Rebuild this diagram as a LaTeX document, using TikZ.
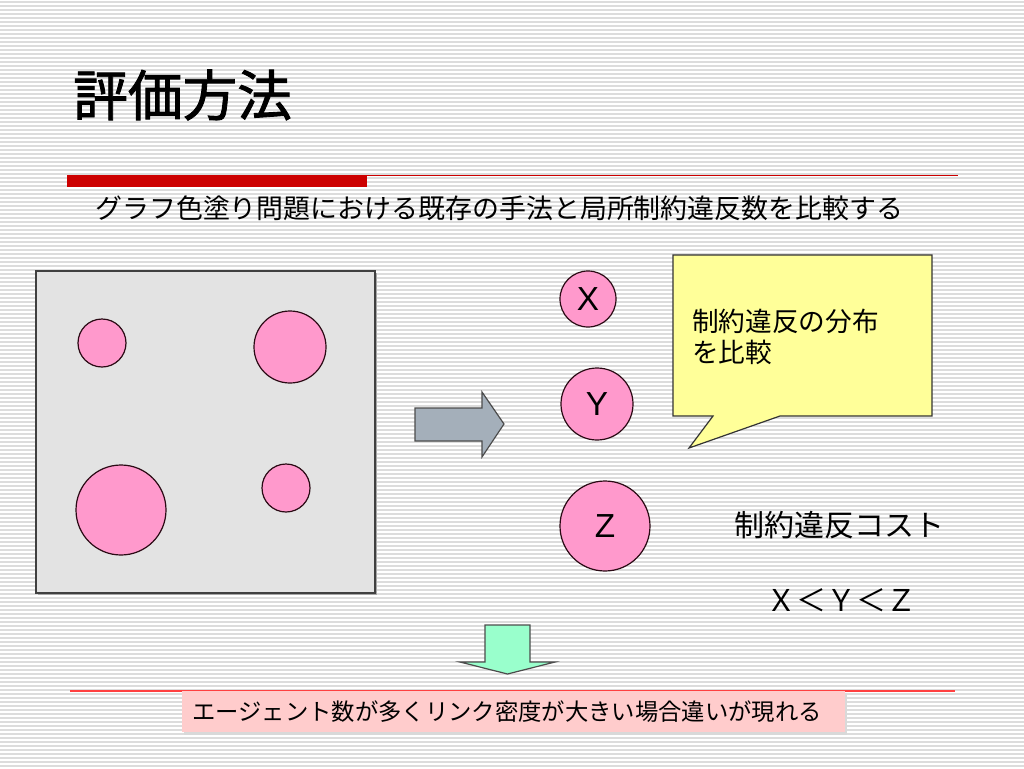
\documentclass[tikz,border=0pt]{standalone}
\usepackage{fontspec}
\setmainfont{Noto Sans CJK JP}
\newfontfamily\lat{Liberation Sans}
\newfontfamily\titlefont[FakeBold=1.6]{Noto Sans CJK JP}
\definecolor{stripe}{HTML}{DCDCDC}
\definecolor{barred}{HTML}{CC0000}
\definecolor{panel}{HTML}{E3E3E3}
\definecolor{pinkc}{HTML}{FF99CC}
\definecolor{edgec}{HTML}{2A0A14}
\definecolor{arrowgray}{HTML}{A4AFBA}
\definecolor{calloutc}{HTML}{FFFF99}
\definecolor{greenarr}{HTML}{99FFCC}
\definecolor{notec}{HTML}{FFCCCC}
\tikzset{
  dot/.style={circle, fill=pinkc, draw=edgec, line width=0.9pt, inner sep=0pt},
  lettr/.style={font=\lat\fontsize{25}{25}\selectfont},
  jtext/.style={inner sep=0pt, anchor=west},
}
\begin{document}
\begin{tikzpicture}[x=0.75pt, y=-0.75pt]
\useasboundingbox (0,0) rectangle (1024,768);
\fill[white] (0,0) rectangle (1024,768);
\foreach \i in {0,...,191} \fill[stripe] (0,\i*4+1) rectangle (1024,\i*4+2.6);

% title
\node[jtext, font=\titlefont\fontsize{41}{41}\selectfont] (title) at (73,95) {評価方法};
\fill[barred] (67,175) rectangle (367,187);
\draw[barred, line width=0.9pt] (367,175.5) -- (958,175.5);
\node[jtext, font=\fontsize{20.2}{20.2}\selectfont] (sub) at (95,208) {グラフ色塗り問題における既存の手法と局所制約違反数を比較する};

% panel
\fill[black!35] (38,273) rectangle (377,595);
\node[draw=black!75, line width=1.2pt, fill=panel, minimum width=339*0.75pt, minimum height=322*0.75pt, inner sep=0pt] (panel) at (205.5,432) {};
\node[dot, minimum size=48*0.75pt] (c1) at (102,343) {};
\node[dot, minimum size=72*0.75pt] (c2) at (290,347) {};
\node[dot, minimum size=90*0.75pt] (c3) at (121,510) {};
\node[dot, minimum size=48*0.75pt] (c4) at (286,488) {};

% gray arrow
\draw[fill=arrowgray, draw=black!70, line width=0.9pt, line join=miter]
  (415,408) -- (482,408) -- (482,392) -- (504,424) -- (482,457) -- (482,441) -- (415,441) -- cycle;

% X Y Z
\node[dot, minimum size=56*0.75pt, lettr] (X) at (588,299) {X};
\node[dot, minimum size=72*0.75pt, lettr] (Y) at (597,404) {Y};
\node[dot, minimum size=90*0.75pt, lettr] (Z) at (605,526) {Z};

% callout
\draw[fill=calloutc, draw=black!80, line width=0.9pt, line join=miter]
  (673,255) -- (932,255) -- (932,416) -- (780,416) -- (689,448) -- (713,416) -- (673,416) -- cycle;
\node[jtext, align=left, font=\fontsize{20}{23.5}\selectfont] (ctext) at (692,337) {制約違反の分布\\を比較};

\node[jtext, font=\fontsize{22.5}{22.5}\selectfont] (cost) at (734,525) {制約違反コスト};
\node[jtext, font=\fontsize{22.5}{22.5}\selectfont] (ineq) at (766,600) {Ｘ＜Ｙ＜Ｚ};

% green arrow
\draw[fill=greenarr, draw=black!70, line width=0.9pt, line join=miter]
  (485,625) -- (530,625) -- (530,662) -- (555,662) -- (507.5,674) -- (460,662) -- (485,662) -- cycle;

% bottom note
\draw[red!75, line width=0.9pt] (70,691) -- (955,691);
\fill[black!15] (184,693) rectangle (847,735);
\node[fill=notec, minimum width=663*0.75pt, minimum height=41*0.75pt, inner sep=0pt] (note) at (513.5,711.5) {};
\node[jtext, font=\fontsize{17.5}{17.5}\selectfont] (notetext) at (192,712) {エージェント数が多くリンク密度が大きい場合違いが現れる};
\end{tikzpicture}
\end{document}
